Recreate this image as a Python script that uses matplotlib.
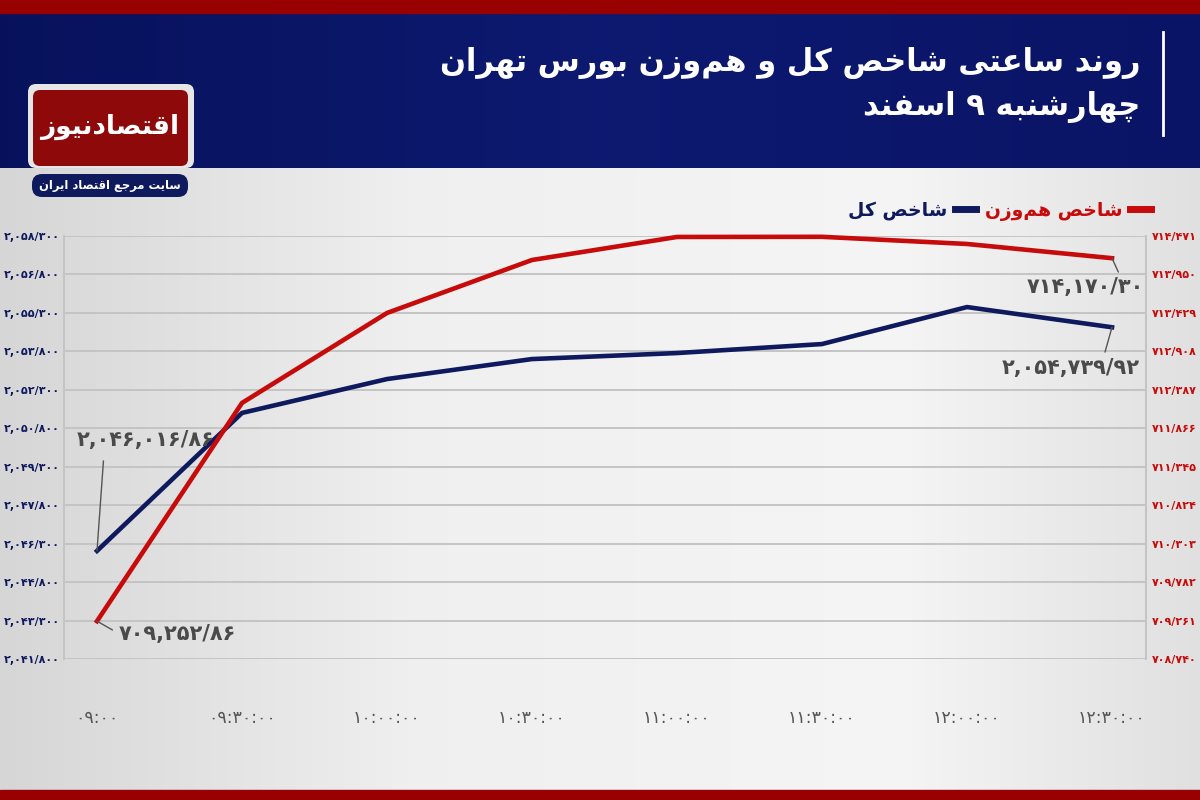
import numpy as np
import matplotlib
matplotlib.use('Agg')
import matplotlib.pyplot as plt
from matplotlib.patches import Rectangle, FancyBboxPatch
from matplotlib.lines import Line2D

plt.rcParams['font.family'] = ['DejaVu Sans']

# ---- data ----
times = ['09:00', '09:30:00', '10:00:00', '10:30:00', '11:00:00', '11:30:00', '12:00:00', '12:30:00']
shakhes_kol = [2046016.86, 2051398, 2052720, 2053500, 2053734, 2054085, 2055528, 2054739.92]
shakhes_hamvazn = [709252.86, 712209, 713428, 714146, 714458, 714460, 714363, 714170.30]

left_ticks = [2041800, 2043300, 2044800, 2046300, 2047800, 2049300,
              2050800, 2052300, 2053800, 2055300, 2056800, 2058300]
right_ticks = [708740, 709261, 709782, 710303, 710824, 711345,
               711866, 712387, 712908, 713429, 713950, 714471]

title_1 = 'روند ساعتی شاخص کل و هم\u200cوزن بورس تهران'
title_2 = 'چهارشنبه ۹ اسفند'
label_kol = 'شاخص کل'
label_hamvazn = 'شاخص هم\u200cوزن'
logo_text = 'اقتصادنیوز'
logo_sub = 'سایت مرجع اقتصاد ایران'

NAVY = '#0f1a5e'
RED = '#c70a0a'

# ---- minimal arabic shaping (matplotlib has no complex text layout) ----
FORMS = {
    '\u0627': ('\uFE8D', '\uFE8E'),
    '\u0628': ('\uFE8F', '\uFE90', '\uFE91', '\uFE92'),
    '\u062A': ('\uFE95', '\uFE96', '\uFE97', '\uFE98'),
    '\u062C': ('\uFE9D', '\uFE9E', '\uFE9F', '\uFEA0'),
    '\u062D': ('\uFEA1', '\uFEA2', '\uFEA3', '\uFEA4'),
    '\u062E': ('\uFEA5', '\uFEA6', '\uFEA7', '\uFEA8'),
    '\u062F': ('\uFEA9', '\uFEAA'),
    '\u0631': ('\uFEAD', '\uFEAE'),
    '\u0632': ('\uFEAF', '\uFEB0'),
    '\u0633': ('\uFEB1', '\uFEB2', '\uFEB3', '\uFEB4'),
    '\u0634': ('\uFEB5', '\uFEB6', '\uFEB7', '\uFEB8'),
    '\u0635': ('\uFEB9', '\uFEBA', '\uFEBB', '\uFEBC'),
    '\u0639': ('\uFEC9', '\uFECA', '\uFECB', '\uFECC'),
    '\u0641': ('\uFED1', '\uFED2', '\uFED3', '\uFED4'),
    '\u0642': ('\uFED5', '\uFED6', '\uFED7', '\uFED8'),
    '\u0644': ('\uFEDD', '\uFEDE', '\uFEDF', '\uFEE0'),
    '\u0645': ('\uFEE1', '\uFEE2', '\uFEE3', '\uFEE4'),
    '\u0646': ('\uFEE5', '\uFEE6', '\uFEE7', '\uFEE8'),
    '\u0647': ('\uFEE9', '\uFEEA', '\uFEEB', '\uFEEC'),
    '\u0648': ('\uFEED', '\uFEEE'),
    '\u0686': ('\uFB7A', '\uFB7B', '\uFB7C', '\uFB7D'),
    '\u06A9': ('\uFB8E', '\uFB8F', '\uFB90', '\uFB91'),
    '\u06CC': ('\uFBFC', '\uFBFD', '\uFBFE', '\uFBFF'),
}


def fa(s):
    out = []
    for i, ch in enumerate(s):
        if ch == '\u200c':
            continue
        if ch not in FORMS:
            out.append(ch)
            continue
        prev = s[i - 1] if i > 0 else ''
        nxt = s[i + 1] if i < len(s) - 1 else ''
        jp = prev in FORMS and len(FORMS[prev]) == 4
        jn = len(FORMS[ch]) == 4 and nxt in FORMS
        f = FORMS[ch]
        if jp and jn:
            out.append(f[3])
        elif jp:
            out.append(f[1])
        elif jn:
            out.append(f[2])
        else:
            out.append(f[0])
    return ''.join(out)[::-1]


DIG = str.maketrans('0123456789', '۰۱۲۳۴۵۶۷۸۹')


def fa_num(s):
    return s.translate(DIG)


def fmt_value(v):
    whole = int(v)
    dec = int(round((v - whole) * 100))
    return fa_num(f'{whole:,}/{dec:02d}')


# ---- figure & background ----
fig = plt.figure(figsize=(12, 8), dpi=100)
bg = fig.add_axes([0, 0, 1, 1], zorder=-5)
bg.set_xlim(0, 1200)
bg.set_ylim(800, 0)
bg.axis('off')

xs = np.linspace(0, 1, 300)
lo = np.interp(xs, [0, 0.35, 0.75, 1], [0.84, 0.94, 0.96, 0.88])
bg.imshow(np.dstack([lo, lo, lo]), extent=(0, 1200, 800, 168), aspect='auto')
hdr_r = np.interp(xs, [0, 0.5, 1], [0.03, 0.05, 0.04])
hdr_g = np.interp(xs, [0, 0.5, 1], [0.07, 0.10, 0.08])
hdr_b = np.interp(xs, [0, 0.5, 1], [0.36, 0.44, 0.40])
bg.imshow(np.dstack([hdr_r, hdr_g, hdr_b]), extent=(0, 1200, 168, 13), aspect='auto')
bg.add_patch(Rectangle((0, 0), 1200, 13, color='#990000'))
bg.add_patch(Rectangle((0, 790), 1200, 10, color='#990000'))

# title
bg.text(1140, 63, fa(title_1), color='white', fontsize=22, fontweight='bold', ha='right', va='center')
bg.text(1140, 107, fa(title_2), color='white', fontsize=22, fontweight='bold', ha='right', va='center')
bg.plot([1163, 1163], [32, 135], color='white', lw=2)

# logo
bg.add_patch(FancyBboxPatch((28, 84), 166, 84, boxstyle='round,pad=0,rounding_size=8',
                            facecolor='#e6e6e6', edgecolor='none'))
bg.add_patch(FancyBboxPatch((33, 90), 155, 76, boxstyle='round,pad=0,rounding_size=7',
                            facecolor='#8e0a0a', edgecolor='none'))
bg.text(110, 127, fa(logo_text), color='white', fontsize=19, fontweight='bold',
        ha='center', va='center')
bg.add_patch(FancyBboxPatch((32, 174), 156, 23, boxstyle='round,pad=0,rounding_size=10',
                            facecolor=NAVY, edgecolor='none'))
bg.text(110, 186, fa(logo_sub), color='white', fontsize=8.3, fontweight='bold',
        ha='center', va='center')

# ---- chart ----
x = np.arange(len(times))
x_right = 1146
ax = fig.add_axes([64 / 1200, 1 - 659 / 800, (x_right - 64) / 1200, (659 - 236) / 800])
ax.set_facecolor('none')
ax2 = ax.twinx()

l1, = ax.plot(x, shakhes_kol, color=NAVY, lw=3.3, clip_on=False, zorder=3)
l2, = ax2.plot(x, shakhes_hamvazn, color=RED, lw=3.3, clip_on=False, zorder=3)

step = (1112 - 97) / 7
ax.set_xlim(-(97 - 64) / step, 7 + (x_right - 1112) / step)
ax.set_ylim(left_ticks[0], left_ticks[-1])
ax2.set_ylim(right_ticks[0], right_ticks[-1])
ax.set_yticks(left_ticks)
ax.set_yticklabels([fa_num(f'{v // 1000:,}/{v % 1000:03d}') for v in left_ticks])
ax2.set_yticks(right_ticks)
ax2.set_yticklabels([fa_num(f'{v // 1000}/{v % 1000:03d}') for v in right_ticks])
ax.set_xticks(x)
ax.set_xticklabels([fa_num(t) for t in times])

ax.grid(axis='y', color='#c4c4c4', lw=1.4)
ax.set_axisbelow(True)
ax.tick_params(axis='y', length=0, pad=3, labelsize=10, labelcolor=NAVY)
ax2.tick_params(axis='y', length=0, pad=4, labelsize=10, labelcolor=RED)
for t in ax.get_yticklabels() + ax2.get_yticklabels():
    t.set_fontweight('bold')
ax.tick_params(axis='x', length=0, pad=36, labelsize=12.5, labelcolor='#555555')
for a in (ax, ax2):
    for side in ('top', 'bottom'):
        a.spines[side].set_visible(False)
    for side in ('left', 'right'):
        a.spines[side].set_color('#c4c4c4')
        a.spines[side].set_linewidth(1.4)
ax.axhline(left_ticks[0], color='#c4c4c4', lw=1.4)

# annotations
ann = dict(fontsize=15, fontweight='bold', color='#4a4a4a', textcoords='offset points')
line = dict(arrowstyle='-', color='#555555', lw=1, shrinkB=0)
ax.annotate(fmt_value(shakhes_kol[0]), (x[0], shakhes_kol[0]), xytext=(35, 80), ha='center', va='center',
            arrowprops=dict(relpos=(0.2, 0), shrinkA=6, **line), **ann)
ax2.annotate(fmt_value(shakhes_hamvazn[0]), (x[0], shakhes_hamvazn[0]), xytext=(58, -9), ha='center', va='center',
             arrowprops=dict(relpos=(0, 0.5), shrinkA=3, **line), **ann)
ax2.annotate(fmt_value(shakhes_hamvazn[-1]), (x[-1], shakhes_hamvazn[-1]), xytext=(-19, -21), ha='center', va='center',
             arrowprops=dict(relpos=(0.8, 1), shrinkA=2, **line), **ann)
ax.annotate(fmt_value(shakhes_kol[-1]), (x[-1], shakhes_kol[-1]), xytext=(-30, -29), ha='center', va='center',
            arrowprops=dict(relpos=(0.74, 1), shrinkA=2, **line), **ann)

# legend (right-to-left: marker after text)
handles = [Line2D([], [], color=NAVY, lw=5), Line2D([], [], color=RED, lw=5)]
leg = fig.legend(handles, [fa(label_kol), fa(label_hamvazn)], loc='center right',
                 bbox_to_anchor=(1158 / 1200, 1 - 211 / 800), ncol=2, frameon=False,
                 markerfirst=False, handlelength=1.1, columnspacing=0.5, handletextpad=0.4,
                 borderaxespad=0, prop=dict(size=13.5, weight='bold'))
for txt, c in zip(leg.get_texts(), [NAVY, RED]):
    txt.set_color(c)

# shrink the axis labels until they fit inside the picture
fig.canvas.draw()
r = fig.canvas.get_renderer()
for a, edge in ((ax, 'left'), (ax2, 'right')):
    labels = a.get_yticklabels()
    size = labels[0].get_fontsize()
    while size > 6:
        ext = [t.get_window_extent(r) for t in labels]
        if edge == 'left' and min(e.x0 for e in ext) >= 2:
            break
        if edge == 'right' and max(e.x1 for e in ext) <= 1198:
            break
        size -= 0.25
        for t in labels:
            t.set_fontsize(size)

fig.savefig('out.png', dpi=100)
